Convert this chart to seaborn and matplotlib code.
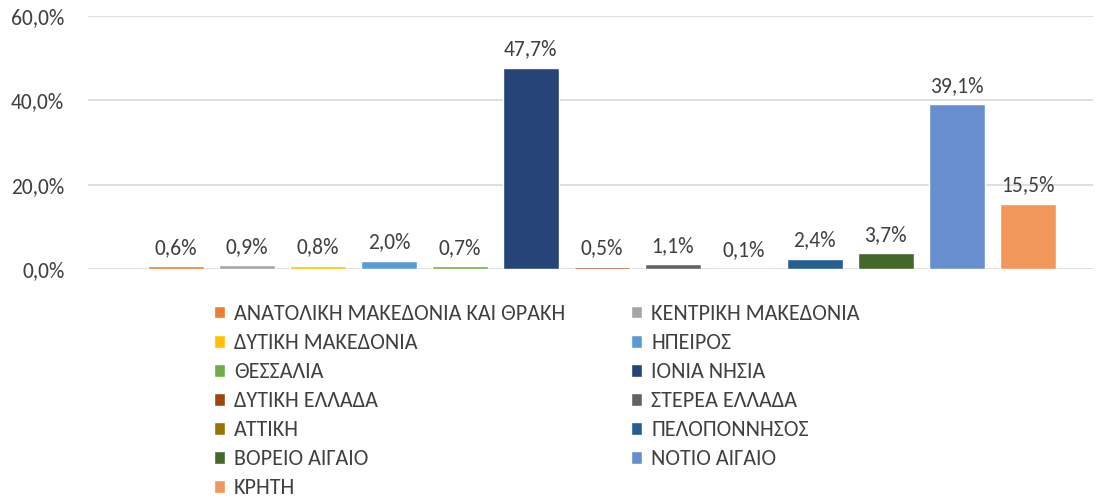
import matplotlib
matplotlib.use("Agg")
import matplotlib.pyplot as plt
from matplotlib import font_manager as fm
import seaborn as sns
import pandas as pd

regions = ["ΑΝΑΤΟΛΙΚΗ ΜΑΚΕΔΟΝΙΑ ΚΑΙ ΘΡΑΚΗ", "ΚΕΝΤΡΙΚΗ ΜΑΚΕΔΟΝΙΑ", "ΔΥΤΙΚΗ ΜΑΚΕΔΟΝΙΑ",
           "ΗΠΕΙΡΟΣ", "ΘΕΣΣΑΛΙΑ", "ΙΟΝΙΑ ΝΗΣΙΑ", "ΔΥΤΙΚΗ ΕΛΛΑΔΑ", "ΣΤΕΡΕΑ ΕΛΛΑΔΑ",
           "ΑΤΤΙΚΗ", "ΠΕΛΟΠΟΝΝΗΣΟΣ", "ΒΟΡΕΙΟ ΑΙΓΑΙΟ", "ΝΟΤΙΟ ΑΙΓΑΙΟ", "ΚΡΗΤΗ"]
values = [0.6, 0.9, 0.8, 2.0, 0.7, 47.7, 0.5, 1.1, 0.1, 2.4, 3.7, 39.1, 15.5]
colors = ["#ED7D31", "#A5A5A5", "#FFC000", "#5B9BD5", "#70AD47", "#264478", "#9E480E",
          "#636363", "#997300", "#255E91", "#43682B", "#698ED0", "#F1975A"]
yticks = [0, 20, 40, 60]

sns.set_theme(style="white")
available = {f.name for f in fm.fontManager.ttflist}
if "Carlito" in available:
    fam, fs, lfs = "Carlito", 15.5, 15.9
elif "Liberation Sans Narrow" in available:
    fam, fs, lfs = "Liberation Sans Narrow", 14, 14
else:
    fam, fs, lfs = "Noto Sans", 12.5, 12.5
plt.rcParams['font.family'] = [fam, 'DejaVu Sans']

df = pd.DataFrame({"region": regions, "value": values})
fig = plt.figure(figsize=(11.08, 5.04), dpi=100)
ax = fig.add_axes([88/1108, 235/504, (1093-88)/1108, 253/504])

sns.barplot(data=df, x="region", y="value", hue="region", palette=colors,
            dodge=False, width=0.79, legend=True, ax=ax, saturation=1)

txtc = "#404040"
ax.set_ylim(0, 60)
ax.set_xlim(-1.24, 12.92)
ax.set_yticks(yticks)
ax.set_yticklabels([f"{t:.1f}%".replace(".", ",") for t in yticks], fontsize=fs, color=txtc)
ax.tick_params(axis="y", length=0, pad=17)
ax.set_xticks([])
ax.set_xlabel("")
ax.set_ylabel("")
for s in ax.spines.values():
    s.set_visible(False)
for t in yticks:
    ax.axhline(t, color="#D9D9D9", lw=1.2, zorder=0)

for i, v in enumerate(values):
    ax.annotate(f"{v:.1f}%".replace(".", ","), (i, v), xytext=(0, 6),
                textcoords="offset points", ha="center", va="bottom",
                fontsize=fs, color=txtc)

handles, labels = ax.get_legend_handles_labels()
order = list(range(0, 13, 2)) + list(range(1, 13, 2))
ax.legend([handles[i] for i in order], [labels[i] for i in order], ncol=2,
          loc="upper left", bbox_to_anchor=(214/1108, 1 - 304/504),
          bbox_transform=fig.transFigure, frameon=False, fontsize=lfs,
          handlelength=0.5, handleheight=0.5, handletextpad=0.4,
          columnspacing=3.0, labelspacing=0.41, borderaxespad=0, borderpad=0,
          labelcolor=txtc)

fig.savefig("out.png", dpi=100)
